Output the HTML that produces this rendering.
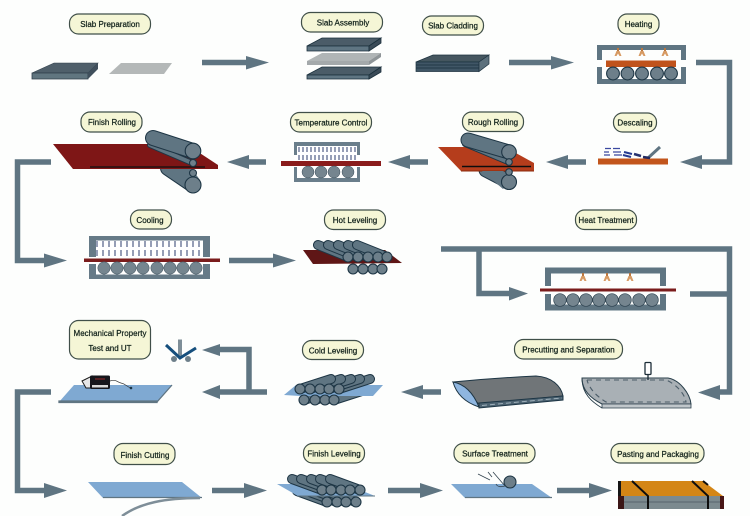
<!DOCTYPE html>
<html><head><meta charset="utf-8"><style>
html,body{margin:0;padding:0;background:#fdfefd;width:750px;height:516px;overflow:hidden}
svg{display:block}
.l rect{fill:#f5f6d6;stroke:#3f4f48;stroke-width:1.2}
.l text{font-family:"Liberation Sans",sans-serif;font-size:8px;fill:#10201a;text-anchor:middle;stroke:#10201a;stroke-width:.22}
.a{fill:none;stroke:#5f7482;stroke-width:5.5}
.h{fill:#5f7482}
.r{fill:#6d7f8a;stroke:#1f3644;stroke-width:1.1}
.c{fill:#5f7482;stroke:#1f3644;stroke-width:.9}
.d{fill:none;stroke:#1f3644;stroke-linecap:round}
.f{fill:none;stroke:#5f7482;stroke-linecap:round}
</style></head><body>
<svg width="750" height="516" viewBox="0 0 750 516" xmlns="http://www.w3.org/2000/svg">
<defs>
<filter id="s" x="0" y="0" width="100%" height="100%"><feGaussianBlur stdDeviation="0.35"/></filter>
<g id="b"><rect x="-1" y="-1" width="2" height="3" fill="#b9773f"/><path d="M-1.500 2L-3.500 7H-1.500L0 4.500L1.500 7H3.500L1.500 2z" fill="#d79a63"/></g>
<g id="th"><path class="d" stroke-width="10" d="M0 0L-30-12"/><path class="f" stroke-width="8" d="M0 0L-30-12"/></g>
<g id="tc"><path class="d" stroke-width="10" d="M0 0L31-10"/><path class="f" stroke-width="8" d="M0 0L31-10"/></g>
<g id="tf"><path class="d" stroke-width="10" d="M0 0L-30-11"/><path class="f" stroke-width="8" d="M0 0L-30-11"/></g>
</defs>
<g filter="url(#s)">
<rect width="750" height="516" fill="#fdfefd"/>
<!-- arrows -->
<path class="a" d="M202 62.500H248"/><path class="h" d="M246 56l23 6.500-23 7z"/>
<path class="a" d="M509 62.500H553"/><path class="h" d="M551 56l23 6.500-23 7z"/>
<path class="a" d="M696 62.500H729.500V162H700"/><path class="h" d="M702 155l-22 7 22 7z"/>
<path class="a" d="M586 162H566"/><path class="h" d="M568 155l-22 7 22 7z"/>
<path class="a" d="M428 162H408"/><path class="h" d="M410 155l-22 7 22 7z"/>
<path class="a" d="M266 162H247"/><path class="h" d="M249 155l-22 7 22 7z"/>
<path class="a" d="M51 162H17.500V260.500H46"/><path class="h" d="M44 253.500l23 7-23 7z"/>
<path class="a" d="M229 260.500H275"/><path class="h" d="M273 253.500l23 7-23 7z"/>
<path class="a" d="M441 249H729.500V392H718"/><path class="h" d="M720 385l-22 7.500 22 7.500z"/>
<path class="a" d="M479 249V293.500H511"/><path class="h" d="M509 287l19 6.500-19 7z"/>
<path class="a" d="M690 294H729"/>
<path class="a" d="M441 392H421"/><path class="h" d="M423 385l-22 7 22 7z"/>
<path class="a" d="M267 392H218M249 392V349.500H218"/><path class="h" d="M220 385l-18 7 18 7zM220 344l-18 6 18 6z"/>
<path class="a" d="M51 392H17.500V490.500H46"/><path class="h" d="M44 483l23 7.500-23 7.500z"/>
<path class="a" d="M212 490.500H246"/><path class="h" d="M244 483l23 7.500-23 7.500z"/>
<path class="a" d="M388 490.500H422"/><path class="h" d="M420 483l23 7.500-23 7.500z"/>
<path class="a" d="M557 490.500H591"/><path class="h" d="M589 483l23 7.500-23 7.500z"/>

<!-- Slab Preparation -->
<path d="M32 73L54 63H98L88 73z" fill="#4f5f6b" stroke="#33424d" stroke-width=".6"/>
<path d="M32 73H88V79H32z" fill="#61757f" stroke="#2f3f4a" stroke-width=".8"/>
<path d="M88 73L98 63V69L88 79z" fill="#3f505c"/>
<path d="M109 74L121 63H172L164 74z" fill="#b4b8b8"/>

<!-- Slab Assembly -->
<g stroke="#1c303d" stroke-width=".8">
<path d="M307 46L322 38H381L369 46z" fill="#4b5c68"/><path d="M307 46H369V51H307z" fill="#5f7482"/><path d="M369 46L381 38V43L369 51z" fill="#3a4c58"/>
<path d="M307 75L322 67H381L369 75z" fill="#4b5c68"/><path d="M307 75H369V79H307z" fill="#5f7482"/><path d="M369 75L381 67V72L369 79z" fill="#3a4c58"/>
</g>
<path d="M307 61L322 53H381L369 61z" fill="#b0b5b6"/><path d="M307 61H369V65H307z" fill="#a4a9ab"/><path d="M369 61L381 53V57L369 65z" fill="#8f9598"/>

<!-- Slab Cladding -->
<path d="M416 62L433 55H489L479 62z" fill="#45565f" stroke="#1e3340" stroke-width=".7"/>
<path d="M416 62H479V71.500H416z" fill="#3f5666" stroke="#1e3340" stroke-width=".7"/>
<path d="M416 65H479M416 68H479" stroke="#1c2f3c" stroke-width=".8"/>
<path d="M479 62L489 55V64L479 71.500z" fill="#5c6f7b" stroke="#1e3340" stroke-width=".7"/>

<!-- Heating -->
<path d="M599.500 60V47.500H683.500V60" fill="none" stroke="#5f7482" stroke-width="5"/>
<path d="M599.500 67V81.500H683.500V67" fill="none" stroke="#5f7482" stroke-width="5"/>
<use href="#b" x="618" y="49"/><use href="#b" x="642" y="49"/><use href="#b" x="665" y="49"/>
<rect x="606" y="60.500" width="70" height="6.500" fill="#c0521f"/>
<g class="r"><circle cx="613" cy="73.500" r="6.400"/><circle cx="627.500" cy="73.500" r="6.400"/><circle cx="642" cy="73.500" r="6.400"/><circle cx="657" cy="73.500" r="6.400"/><circle cx="671" cy="73.500" r="6.400"/></g>

<!-- Finish Rolling -->
<path class="d" stroke-width="16" d="M168 168L193 185"/><path class="f" stroke-width="14" d="M168 168L193 185"/>
<path class="d" stroke-width="6" d="M165 160L193 173"/><path class="f" stroke-width="4" d="M165 160L193 173"/>
<path d="M53 144H186L218 165V169H73z" fill="#7e1616"/>
<path d="M90 167H205" stroke="#111" stroke-width="1.300"/>
<path d="M180 169L200 169L200 193L178 188L160 169z" class="c" stroke="none" opacity="0"/>
<path class="d" stroke-width="16" d="M168 169L193 185" stroke-linecap="butt" opacity="0"/>
<path d="M170 169L192 169L200 180L190 193z" fill="#5f7482"/>
<circle cx="193" cy="185" r="8" class="r"/>
<circle cx="193" cy="173" r="3.500" class="r"/>
<path class="d" stroke-width="6" d="M150 145L192 163"/><path class="f" stroke-width="4" d="M150 145L192 163"/>
<path class="d" stroke-width="16" d="M153 138L193 151"/><path class="f" stroke-width="14" d="M153 138L193 151"/>
<circle cx="193" cy="151" r="7.800" class="r"/>
<circle cx="193" cy="163" r="3.500" class="r"/>

<!-- Temperature Control -->
<rect x="294" y="142" width="66" height="40" fill="#6a7e8b"/>
<rect x="297" y="146" width="60" height="32" fill="#fff"/>
<rect x="294" y="155" width="3" height="12" fill="#fff"/><rect x="357" y="155" width="3" height="12" fill="#fff"/>
<g stroke="#3f4f7a" stroke-width="1.100" stroke-dasharray="5 3">
<path d="M299 147V160M303 147V160M307 147V160M311 147V160M315 147V160M319 147V160M323 147V160M327 147V160M331 147V160M335 147V160M339 147V160M343 147V160M347 147V160M351 147V160M355 147V160"/>
</g>
<rect x="281" y="161" width="100" height="5" fill="#8a1c1c"/>
<g fill="#74858f" stroke="#3d4e59" stroke-width=".5"><circle cx="308" cy="172" r="6"/><circle cx="321" cy="172" r="6"/><circle cx="334" cy="172" r="6"/><circle cx="348" cy="172" r="6"/></g>

<!-- Rough Rolling -->
<path class="d" stroke-width="15" d="M486 170L509 182"/><path class="f" stroke-width="13" d="M486 170L509 182"/>
<path d="M438 147H505L534 163V171H461z" fill="#b53e1a"/>
<path d="M461 171H534" stroke="#8a2a10" stroke-width=".9"/>
<path d="M462 166.500H531" stroke="#111" stroke-width="1.500"/>
<path d="M482 171L503 171L515 178L503 189z" fill="#5f7482"/>
<circle cx="509" cy="182" r="7.500" class="r"/>
<circle cx="509" cy="172" r="3.300" class="r"/>
<path class="d" stroke-width="6" d="M465 144L508 162"/><path class="f" stroke-width="4" d="M465 144L508 162"/>
<path class="d" stroke-width="15" d="M468 140L509 152"/><path class="f" stroke-width="13" d="M468 140L509 152"/>
<circle cx="509" cy="152" r="7.300" class="r"/>
<circle cx="509" cy="162" r="3.300" class="r"/>

<!-- Descaling -->
<rect x="598" y="158.500" width="70" height="6" fill="#c2541f"/>
<path d="M648 158L660 147" stroke="#5f7482" stroke-width="3"/>
<path d="M643 157L650 158" stroke="#232a60" stroke-width="2.500"/>
<g stroke="#3a4aa0" stroke-width="1.200" fill="none">
<path d="M605 148.500H611M604 152H609M604 155H610M613 148.500H620M613 152H621M614 155H622"/>
<path d="M624 152L632 154M623 155L631 157" stroke-width="2" stroke="#283a90"/>
<path d="M634 154L641 156" stroke-width="2.500" stroke="#26306e"/>
</g>

<!-- Cooling -->
<rect x="89" y="236" width="121" height="43" fill="#667a87"/>
<rect x="96" y="240.500" width="107" height="34" fill="#fff"/>
<rect x="89" y="257" width="7" height="7" fill="#fff"/><rect x="203" y="257" width="7" height="7" fill="#fff"/>
<g stroke="#3f4f7a" stroke-width="1.100" stroke-dasharray="6 3">
<path d="M97 241V257M103 241V257M109 241V257M115 241V257M121 241V257M127 241V257M133 241V257M139 241V257M145 241V257M151 241V257M157 241V257M163 241V257M169 241V257M175 241V257M181 241V257M187 241V257M193 241V257M199 241V257"/>
</g>
<rect x="84" y="258.500" width="136" height="3.500" fill="#7a1e1c"/>
<g fill="#74858f" stroke="#3d4e59" stroke-width=".5"><circle cx="104" cy="268" r="6.200"/><circle cx="117" cy="268" r="6.200"/><circle cx="130" cy="268" r="6.200"/><circle cx="143" cy="268" r="6.200"/><circle cx="157" cy="268" r="6.200"/><circle cx="170" cy="268" r="6.200"/><circle cx="183" cy="268" r="6.200"/><circle cx="196" cy="268" r="6.200"/></g>

<!-- Hot Leveling -->
<path d="M303 250L385 250L402 263L313 264z" fill="#5f1614"/>
<g class="r"><circle cx="353" cy="269" r="5"/><circle cx="363" cy="269" r="5"/><circle cx="373" cy="269" r="5"/><circle cx="382" cy="269" r="5"/></g>
<use href="#th" x="348" y="257"/><use href="#th" x="358" y="257"/><use href="#th" x="368" y="257"/><use href="#th" x="378" y="257"/><use href="#th" x="387" y="257"/>
<g class="r"><circle cx="348" cy="257" r="5"/><circle cx="358" cy="257" r="5"/><circle cx="368" cy="257" r="5"/><circle cx="378" cy="257" r="5"/><circle cx="387" cy="257" r="5"/></g>

<!-- Heat Treatment -->
<path d="M548 286V270.500H663V286" fill="none" stroke="#5f7482" stroke-width="6"/>
<path d="M548 294V307.500H663V294" fill="none" stroke="#5f7482" stroke-width="6"/>
<use href="#b" x="583" y="274"/><use href="#b" x="607" y="274"/><use href="#b" x="630" y="274"/>
<rect x="540" y="288.500" width="136" height="3" fill="#7a1e1c"/>
<g fill="#74858f" stroke="#2f4350" stroke-width=".7"><circle cx="560" cy="300" r="6.300"/><circle cx="573" cy="300" r="6.300"/><circle cx="586" cy="300" r="6.300"/><circle cx="599" cy="300" r="6.300"/><circle cx="612" cy="300" r="6.300"/><circle cx="625" cy="300" r="6.300"/><circle cx="639" cy="300" r="6.300"/><circle cx="652" cy="300" r="6.300"/></g>

<!-- Mechanical test -->
<path d="M74 385H172L157 402H59z" fill="#7fa9d2"/>
<path d="M59 401H157V402.500H59zM157 402L172 385" stroke="#5f7482" stroke-width="1.300" fill="#5f7482"/>
<path d="M82 381L92 376V388L86 388z" fill="#e6e6e6" stroke="#1a1a1a"/>
<rect x="90" y="375.500" width="20" height="13.500" rx="1.500" fill="#14161c"/>
<rect x="92" y="385" width="16" height="2.500" fill="#d8d8d8"/>
<path d="M95 379H105" stroke="#9a2a2a" stroke-width="1"/>
<path d="M110 381C116 379 117 382 121 383C126 384 127 387 131 388" fill="none" stroke="#333" stroke-width=".7"/>
<circle cx="131" cy="388" r="1.300" fill="#1f3644"/>

<!-- Bend test -->
<rect x="178" y="339.500" width="4" height="19" fill="#7e8e98"/>
<circle cx="174" cy="359" r="3" fill="#6d7f8a"/><circle cx="188" cy="359" r="3" fill="#6d7f8a"/>
<path d="M166 345L180 358L196 348" fill="none" stroke="#17507d" stroke-width="3"/>

<!-- Cold Leveling -->
<use href="#tc" x="304" y="400"/><use href="#tc" x="315" y="400"/><use href="#tc" x="325" y="400"/><use href="#tc" x="334" y="400"/>
<path d="M284 395L296 385H383L373 396H300z" fill="#7fa9d2"/>
<g class="r"><circle cx="304" cy="400" r="5"/><circle cx="315" cy="400" r="5"/><circle cx="325" cy="400" r="5"/><circle cx="334" cy="400" r="5"/></g>
<use href="#tc" x="339" y="389"/><use href="#tc" x="329" y="389"/><use href="#tc" x="320" y="389"/><use href="#tc" x="310" y="389"/><use href="#tc" x="300" y="389"/>
<g class="r"><circle cx="300" cy="389" r="5"/><circle cx="310" cy="389" r="5"/><circle cx="320" cy="389" r="5"/><circle cx="329" cy="389" r="5"/><circle cx="339" cy="389" r="5"/></g>

<!-- Precut left -->
<path d="M453 382Q495 378 536 376C552 377 561 386 563 396L479 404z" fill="#6f7478" stroke="#1f3644" stroke-width="1"/>
<path d="M479 403L563 396V400L479 408z" fill="#4d6472" stroke="#1f3644" stroke-width="1"/>
<path d="M453 382Q470 385 479 407Q458 400 453 382z" fill="#8fb6e0" stroke="#1f3644" stroke-width="1"/>
<path d="M482 405.500L562 398" stroke="#9fb0ba" stroke-width="1" stroke-dasharray="5 3"/>

<!-- Precut right -->
<path d="M582 378H668C680 380 690 394 691 404H602C590 398 582 390 582 378z" fill="#a9b0b5" stroke="#2a3f4c" stroke-width="1"/>
<path d="M602 404H691V408H602z" fill="#c0c6ca" stroke="#2a3f4c" stroke-width=".8"/>
<path d="M582 378C582 394 592 402 602 408" fill="none" stroke="#2a3f4c" stroke-width="1"/>
<path d="M587 380H666C676 384 685 394 686 402H606C596 396 589 388 587 380" fill="none" stroke="#4b5c68" stroke-width="1.100" stroke-dasharray="5 4"/>
<rect x="645" y="362.500" width="6" height="12" rx="1" fill="#fff" stroke="#1e2d38" stroke-width="1.300"/>
<path d="M648 374.500V380" stroke="#1e2d38" stroke-width="1.300"/>

<!-- Finish Cutting -->
<path d="M88 482H182L202 498H103z" fill="#7fa9d2"/>
<path d="M103 497.500H202" stroke="#5f7482" stroke-width="1.300"/>
<path d="M200 498C165 498 140 503 122 516" fill="none" stroke="#7e8e98" stroke-width="2.500"/>

<!-- Finish Leveling -->
<use href="#tf" x="327" y="502"/><use href="#tf" x="337" y="502"/><use href="#tf" x="346" y="502"/><use href="#tf" x="356" y="502"/>
<path d="M277 484H345L375 496H298z" fill="#7fa9d2"/>
<path d="M298 496H375" stroke="#5f7482" stroke-width="1"/>
<g class="r"><circle cx="327" cy="502" r="5"/><circle cx="337" cy="502" r="5"/><circle cx="346" cy="502" r="5"/><circle cx="356" cy="502" r="5"/></g>
<use href="#tf" x="322" y="490"/><use href="#tf" x="331" y="490"/><use href="#tf" x="341" y="490"/><use href="#tf" x="350" y="490"/><use href="#tf" x="360" y="490"/>
<g class="r"><circle cx="322" cy="490" r="5"/><circle cx="331" cy="490" r="5"/><circle cx="341" cy="490" r="5"/><circle cx="350" cy="490" r="5"/><circle cx="360" cy="490" r="5"/></g>

<!-- Surface Treatment -->
<path d="M451 484H532L552 498H465z" fill="#7fa9d2"/>
<path d="M465 497.500H552" stroke="#5f7482" stroke-width="1.200"/>
<circle cx="510" cy="482" r="6" class="r"/>
<path d="M478 474L490 480M488 472L492 477M493 472L505 486Q498 488 496 484" fill="none" stroke="#33434e" stroke-width=".8"/>

<!-- Packaging -->
<path d="M620 481H703L723 496H620z" fill="#d48617"/>
<rect x="620" y="496" width="103" height="13" fill="#7c8a8f"/>
<path d="M620 502H723" stroke="#5f6c74" stroke-width="1.200"/>
<rect x="618" y="481" width="3" height="15" fill="#161616"/>
<rect x="618" y="496" width="6" height="13" fill="#3a1414"/>
<rect x="720" y="496" width="4" height="13" fill="#4a1418"/>
<path d="M632 481L648 496V509M692 481L708 496V509M703 481L708 485" fill="none" stroke="#111" stroke-width="2"/>

<!-- Labels -->
<g class="l">
<rect x="69.500" y="14" width="81" height="20" rx="9"/><text x="110" y="27">Slab Preparation</text>
<rect x="301.500" y="12.500" width="81" height="19.500" rx="9"/><text x="343" y="25.500">Slab Assembly</text>
<rect x="422.500" y="16" width="61" height="19" rx="9"/><text x="453" y="28.500">Slab Cladding</text>
<rect x="618" y="14" width="41" height="20" rx="9"/><text x="638.500" y="27">Heating</text>
<rect x="81" y="112" width="61" height="20" rx="9"/><text x="112" y="125">Finish Rolling</text>
<rect x="290.500" y="112.500" width="81" height="19.500" rx="9"/><text x="331" y="125.500">Temperature Control</text>
<rect x="462.500" y="112" width="61" height="19.500" rx="9"/><text x="493" y="125">Rough Rolling</text>
<rect x="613.500" y="113" width="43" height="19" rx="9"/><text x="635" y="125.500">Descaling</text>
<rect x="130.500" y="210" width="41" height="19" rx="9"/><text x="150" y="223">Cooling</text>
<rect x="324.500" y="210" width="61" height="19.500" rx="9"/><text x="355" y="223">Hot Leveling</text>
<rect x="575.500" y="210" width="61" height="19.500" rx="9"/><text x="606" y="223">Heat Treatment</text>
<rect x="69.500" y="320.500" width="81" height="38.500" rx="9"/><text x="110" y="336">Mechanical Property</text><text x="110" y="351">Test and UT</text>
<rect x="302.500" y="340.500" width="61" height="19" rx="9"/><text x="333" y="353.500">Cold Leveling</text>
<rect x="514.500" y="339.500" width="108" height="19.500" rx="9"/><text x="568.500" y="352.500">Precutting and Separation</text>
<rect x="114" y="443.500" width="61" height="21" rx="9"/><text x="145" y="458">Finish Cutting</text>
<rect x="303.500" y="443.500" width="61" height="19.500" rx="9"/><text x="334" y="456.500">Finish Leveling</text>
<rect x="454" y="443.500" width="81" height="19.500" rx="9"/><text x="495" y="456.500">Surface Treatment</text>
<rect x="611" y="443.500" width="93" height="19.500" rx="9"/><text x="658" y="457">Pasting and Packaging</text>
</g>
</g>
</svg>
</body></html>
